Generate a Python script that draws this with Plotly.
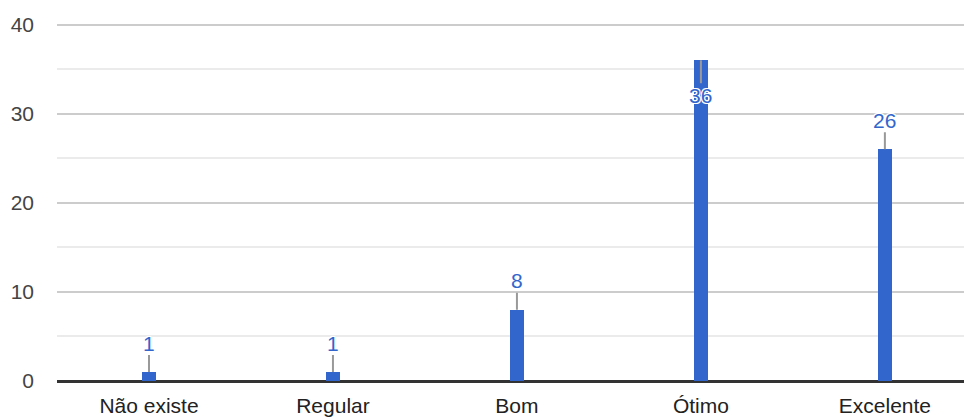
import plotly.graph_objects as go

categories = ["Não existe", "Regular", "Bom", "Ótimo", "Excelente"]
values = [1, 1, 8, 36, 26]
y_ticks = [0, 10, 20, 30, 40]

bar_color = "#3366cc"
font_family = "Liberation Sans, Arial"

fig = go.Figure()
fig.add_trace(go.Bar(
    x=categories, y=values, width=0.075,
    marker=dict(color=bar_color, line=dict(width=0)),
    hoverinfo="x+y",
))

for c, v in zip(categories, values):
    inside = v >= 34
    fig.add_annotation(
        x=c, y=v, xref="x", yref="y",
        text=str(v), showarrow=True, arrowhead=0, arrowwidth=2,
        arrowcolor="#999999", ax=0, ay=(35 if inside else -29),
        font=dict(family=font_family, size=21, color=bar_color,
                  shadow="-1px -1px 0 #fff, 1px -1px 0 #fff, -1px 1px 0 #fff, 1px 1px 0 #fff"),
        standoff=0, borderpad=0,
    )

fig.update_layout(
    width=964, height=417,
    margin=dict(l=57, r=0, t=21, b=34),
    paper_bgcolor="white", plot_bgcolor="white",
    showlegend=False,
    font=dict(family=font_family, size=21, color="#444444"),
    bargap=0,
)
fig.update_xaxes(
    type="category", range=[-0.5, 4.43], showgrid=False, showline=False,
    ticks="", ticklabelstandoff=10, tickfont=dict(size=21, color="#222222"),
)
fig.update_yaxes(
    range=[0, 40.4], tickvals=y_ticks, showgrid=True, gridcolor="#cccccc", gridwidth=2,
    zeroline=True, zerolinecolor="#333333", zerolinewidth=2.5,
    showline=False, ticks="", ticklabelstandoff=22,
    tickfont=dict(size=21, color="#444444"),
    minor=dict(dtick=5, tick0=0, showgrid=True, gridcolor="#ebebeb", gridwidth=2),
)

fig.write_html("out.html", config={"displayModeBar": False},
               post_script="document.body.style.margin='0';")
